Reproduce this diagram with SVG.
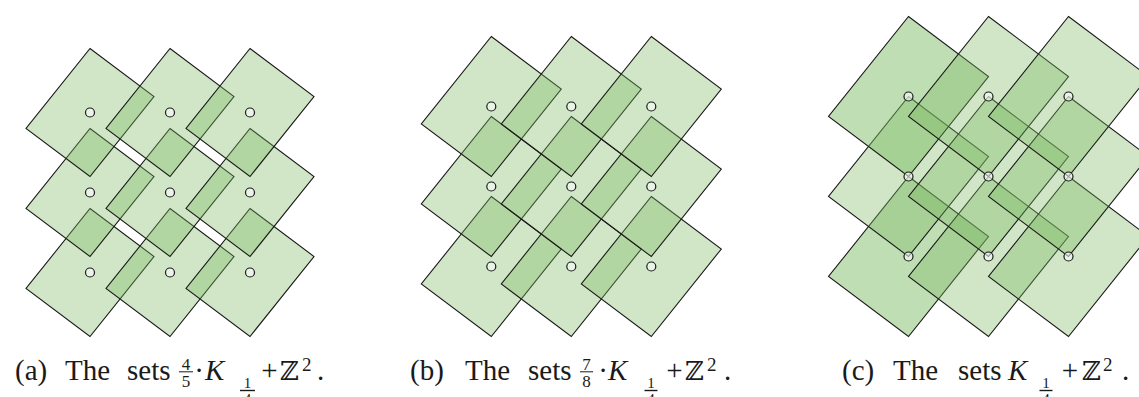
<svg xmlns="http://www.w3.org/2000/svg" xmlns:xlink="http://www.w3.org/1999/xlink" width="1139" height="397" viewBox="0 0 1139 397">
<style>
.k{fill:#78b85e;fill-opacity:0.35;stroke:#1a1a1a;stroke-width:1.1;stroke-linejoin:miter}
.kd{fill:#78b85e;fill-opacity:0.47;stroke:#1a1a1a;stroke-width:1.1;stroke-linejoin:miter}
.pt{fill:#ffffff;fill-opacity:0.55;stroke:#1a1a1a;stroke-width:1.2}
.t{font-family:"Liberation Serif",serif;font-size:29px;fill:#1a1a1a}
.ti{font-family:"Liberation Serif",serif;font-size:29px;font-style:italic;fill:#1a1a1a}
.z{font-family:"DejaVu Serif",serif;font-size:26px;fill:#1a1a1a}
.f{font-family:"Liberation Serif",serif;font-size:17px;fill:#1a1a1a;text-anchor:middle}
.sup{font-family:"Liberation Serif",serif;font-size:19px;fill:#1a1a1a}
.s{font-family:"Liberation Serif",serif;font-size:15px;fill:#1a1a1a;text-anchor:middle}
.bar{stroke:#1a1a1a;stroke-width:1}
.sbar{stroke:#1a1a1a;stroke-width:1.4}
</style>
<defs>
<path id="ka" d="M0,-64 L64,-16 L0,64 L-64,16 Z"/>
<path id="kb" d="M0,-70 L70,-17.5 L0,70 L-70,17.5 Z"/>
<path id="kc" d="M0,-80 L80,-20 L0,80 L-80,20 Z"/>
</defs>

<g id="panel-a">
<g id="a-shapes">
<use xlink:href="#ka" class="k" x="90" y="272.5"/>
<use xlink:href="#ka" class="k" x="170" y="272.5"/>
<use xlink:href="#ka" class="k" x="250" y="272.5"/>
<use xlink:href="#ka" class="k" x="90" y="192.5"/>
<use xlink:href="#ka" class="k" x="170" y="192.5"/>
<use xlink:href="#ka" class="k" x="250" y="192.5"/>
<use xlink:href="#ka" class="k" x="90" y="112.5"/>
<use xlink:href="#ka" class="k" x="170" y="112.5"/>
<use xlink:href="#ka" class="k" x="250" y="112.5"/>
</g>
<g id="a-points">
<circle class="pt" cx="90" cy="112.5" r="4.5"/><circle class="pt" cx="170" cy="112.5" r="4.5"/><circle class="pt" cx="250" cy="112.5" r="4.5"/>
<circle class="pt" cx="90" cy="192.5" r="4.5"/><circle class="pt" cx="170" cy="192.5" r="4.5"/><circle class="pt" cx="250" cy="192.5" r="4.5"/>
<circle class="pt" cx="90" cy="272.5" r="4.5"/><circle class="pt" cx="170" cy="272.5" r="4.5"/><circle class="pt" cx="250" cy="272.5" r="4.5"/>
</g>
<g id="a-caption">
<text class="t" x="15" y="380">(a)</text>
<text class="t" x="65" y="380">The</text>
<text class="t" x="127" y="380">sets</text>
<text class="f" x="186" y="369.5">4</text>
<line class="bar" x1="179" y1="371.8" x2="193" y2="371.8"/>
<text class="f" x="186" y="387">5</text>
<text class="t" x="199" y="380" text-anchor="middle">·</text>
<text class="ti" x="205" y="380">K</text>
<text class="s" x="247.5" y="387.5">1</text>
<line class="sbar" x1="240" y1="390.5" x2="255" y2="390.5"/>
<text class="s" x="247.5" y="404">4</text>
<text class="t" x="269.5" y="380" text-anchor="middle">+</text>
<text class="z" x="280" y="380">ℤ</text>
<text class="sup" x="302" y="370.5">2</text>
<text class="t" x="317" y="380">.</text>
</g>
</g>

<g id="panel-b">
<g id="b-shapes">
<use xlink:href="#kb" class="k" x="491.3" y="266.5"/>
<use xlink:href="#kb" class="k" x="571.3" y="266.5"/>
<use xlink:href="#kb" class="k" x="651.3" y="266.5"/>
<use xlink:href="#kb" class="k" x="491.3" y="186.5"/>
<use xlink:href="#kb" class="k" x="571.3" y="186.5"/>
<use xlink:href="#kb" class="k" x="651.3" y="186.5"/>
<use xlink:href="#kb" class="k" x="491.3" y="106.5"/>
<use xlink:href="#kb" class="k" x="571.3" y="106.5"/>
<use xlink:href="#kb" class="k" x="651.3" y="106.5"/>
</g>
<g id="b-points">
<circle class="pt" cx="491.3" cy="106.5" r="4.5"/><circle class="pt" cx="571.3" cy="106.5" r="4.5"/><circle class="pt" cx="651.3" cy="106.5" r="4.5"/>
<circle class="pt" cx="491.3" cy="186.5" r="4.5"/><circle class="pt" cx="571.3" cy="186.5" r="4.5"/><circle class="pt" cx="651.3" cy="186.5" r="4.5"/>
<circle class="pt" cx="491.3" cy="266.5" r="4.5"/><circle class="pt" cx="571.3" cy="266.5" r="4.5"/><circle class="pt" cx="651.3" cy="266.5" r="4.5"/>
</g>
<g id="b-caption">
<text class="t" x="410" y="380">(b)</text>
<text class="t" x="465" y="380">The</text>
<text class="t" x="528" y="380">sets</text>
<text class="f" x="586.5" y="369.5">7</text>
<line class="bar" x1="580" y1="371.8" x2="593" y2="371.8"/>
<text class="f" x="586.5" y="387">8</text>
<text class="t" x="603" y="380" text-anchor="middle">·</text>
<text class="ti" x="608" y="380">K</text>
<text class="s" x="651" y="387.5">1</text>
<line class="sbar" x1="644.5" y1="390.5" x2="657.5" y2="390.5"/>
<text class="s" x="651" y="404">4</text>
<text class="t" x="674.5" y="380" text-anchor="middle">+</text>
<text class="z" x="685" y="380">ℤ</text>
<text class="sup" x="707" y="370.5">2</text>
<text class="t" x="724" y="380">.</text>
</g>
</g>

<g id="panel-c">
<g id="c-shapes">
<use xlink:href="#kc" class="kd" x="908.5" y="256.5"/>
<use xlink:href="#kc" class="k" x="988.5" y="256.5"/>
<use xlink:href="#kc" class="k" x="1068.5" y="256.5"/>
<use xlink:href="#kc" class="k" x="908.5" y="176.5"/>
<use xlink:href="#kc" class="k" x="988.5" y="176.5"/>
<use xlink:href="#kc" class="k" x="1068.5" y="176.5"/>
<use xlink:href="#kc" class="kd" x="908.5" y="96.5"/>
<use xlink:href="#kc" class="k" x="988.5" y="96.5"/>
<use xlink:href="#kc" class="k" x="1068.5" y="96.5"/>
</g>
<g id="c-points">
<circle class="pt" cx="908.5" cy="96.5" r="4.5"/><circle class="pt" cx="988.5" cy="96.5" r="4.5"/><circle class="pt" cx="1068.5" cy="96.5" r="4.5"/>
<circle class="pt" cx="908.5" cy="176.5" r="4.5"/><circle class="pt" cx="988.5" cy="176.5" r="4.5"/><circle class="pt" cx="1068.5" cy="176.5" r="4.5"/>
<circle class="pt" cx="908.5" cy="256.5" r="4.5"/><circle class="pt" cx="988.5" cy="256.5" r="4.5"/><circle class="pt" cx="1068.5" cy="256.5" r="4.5"/>
</g>
<g id="c-caption">
<text class="t" x="842" y="380">(c)</text>
<text class="t" x="893" y="380">The</text>
<text class="t" x="958" y="380">sets</text>
<text class="ti" x="1008" y="380">K</text>
<text class="s" x="1046" y="387.5">1</text>
<line class="sbar" x1="1039.5" y1="390.5" x2="1052.5" y2="390.5"/>
<text class="s" x="1046" y="404">4</text>
<text class="t" x="1070" y="380" text-anchor="middle">+</text>
<text class="z" x="1082" y="380">ℤ</text>
<text class="sup" x="1103" y="370.5">2</text>
<text class="t" x="1122" y="380">.</text>
</g>
</g>
</svg>
